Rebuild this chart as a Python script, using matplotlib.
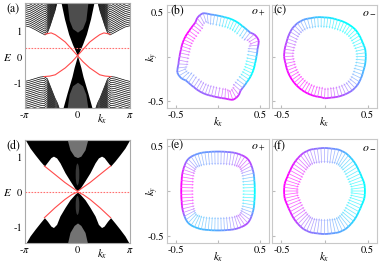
import numpy as np
import matplotlib.pyplot as plt
from matplotlib.collections import LineCollection
from matplotlib.patches import Ellipse

plt.rcParams['font.family'] = ['STIXGeneral', 'DejaVu Sans']
plt.rcParams['mathtext.fontset'] = 'stix'
plt.rcParams['font.size'] = 7.5

# ---------------- band data (left half, kx <= 0; right half is the mirror) ----------------
# (a)
a_out_k = [-3.14, -2.84, -2.54, -2.24, -1.94, -1.80, -1.65, -1.50, -1.35, -1.23]
a_out_up = [1.23, 1.18, 1.08, 0.97, 0.87, 0.95, 1.20, 1.50, 1.80, 2.12]
a_out_k2 = [-3.14, -2.84, -2.54, -2.24, -2.00, -1.80, -1.65, -1.50, -1.35, -1.20, -1.10]
a_out_dn = [-0.95, -0.90, -0.84, -0.78, -0.76, -0.85, -1.10, -1.35, -1.60, -1.80, -1.99]
a_mid_E_up = [0.06, 0.5, 0.9, 1.5, 2.12]
a_mid_k_up = [0.0, -0.30, -0.53, -0.78, -0.98]
a_mid_E_dn = [0.06, -0.4, -0.76, -1.4, -1.99]
a_mid_k_dn = [0.0, -0.20, -0.33, -0.62, -0.87]
a_gray_k = [-0.62, -0.5, -0.3, 0.0]
a_gray_up = [2.12, 1.45, 1.12, 0.98]
a_gray_dn = [-1.99, -1.45, -1.12, -0.98]
a_red_k = [-1.94, -1.58, -1.33, -1.05, -0.73, -0.33, 0.0]
a_red_up = [0.90, 0.95, 0.88, 0.75, 0.59, 0.30, 0.06]
a_red_k2 = [-2.00, -1.65, -1.33, -0.73, -0.33, 0.0]
a_red_dn = [-0.76, -0.74, -0.69, -0.42, -0.18, 0.06]
a_fermi = 0.36

# (d)
d_k = [-3.14, -2.84, -2.54, -2.24, -1.98, -1.80, -1.59, -1.44, -1.25, -1.05, -0.75, -0.45, -0.15, 0.0]
d_up = [1.50, 1.25, 1.06, 0.88, 0.74, 0.85, 0.98, 1.02, 0.97, 0.83, 0.55, 0.32, 0.10, 0.04]
d_dn = [-1.50, -1.25, -1.06, -0.88, -0.73, -0.83, -0.97, -1.01, -0.92, -0.68, -0.44, -0.22, -0.06, 0.0]
d_red_k = [-1.98, -1.35, -0.75, -0.33, 0.0]
d_red_up = [0.74, 0.50, 0.27, 0.13, 0.02]
d_red_dn = [-0.73, -0.45, -0.21, -0.07, 0.0]
d_fermi = 0.0
d_gray_k = [-0.62, -0.45, -0.2, 0.0]
d_gray_top = [1.5, 1.2, 1.02, 0.98]
d_gray_bot = [-1.5, -1.15, -0.95, -0.88]
d_ring_E = [0.50, -0.38]
d_ring_h = [0.62, 0.54]

# ---------------- spin texture data, every 5 degrees ----------------
theta = np.arange(0, 360, 5)

rb = [0.46, 0.47, 0.48, 0.50, 0.52, 0.515, 0.50, 0.47, 0.46, 0.455, 0.45, 0.45, 0.45, 0.45, 0.45, 0.45, 0.45, 0.455,
      0.46, 0.47, 0.48, 0.50, 0.52, 0.515, 0.50, 0.47, 0.46, 0.455, 0.45, 0.45, 0.45, 0.45, 0.45, 0.45, 0.45, 0.455,
      0.46, 0.47, 0.48, 0.50, 0.52, 0.515, 0.50, 0.47, 0.46, 0.455, 0.45, 0.45, 0.45, 0.45, 0.45, 0.45, 0.45, 0.455,
      0.46, 0.47, 0.48, 0.50, 0.52, 0.515, 0.50, 0.47, 0.46, 0.455, 0.45, 0.45, 0.45, 0.45, 0.45, 0.45, 0.45, 0.455]
cb = [0.2, 0.35, 0.5, 0.65, 0.8, 0.78, 0.7, 0.5, 0.3, 0.2, 0.1, 0.07, 0.05, 0.05, 0.05, 0.1, 0.15, 0.22,
      0.3, 0.35, 0.4, 0.45, 0.5, 0.6, 0.7, 0.8, 0.9, 0.95, 1.0, 1.0, 1.0, 0.98, 0.95, 0.9, 0.85, 0.8,
      0.75, 0.68, 0.6, 0.52, 0.45, 0.42, 0.4, 0.42, 0.45, 0.5, 0.55, 0.58, 0.6, 0.6, 0.6, 0.62, 0.65, 0.68,
      0.7, 0.75, 0.8, 0.85, 0.9, 0.85, 0.8, 0.65, 0.5, 0.35, 0.2, 0.1, 0.05, 0.02, 0.0, 0.02, 0.05, 0.12]

rc = [0.48, 0.48, 0.48, 0.475, 0.47, 0.47, 0.47, 0.47, 0.47, 0.465, 0.46, 0.455, 0.45, 0.445, 0.44, 0.44, 0.44, 0.44,
      0.44, 0.445, 0.45, 0.455, 0.46, 0.47, 0.48, 0.485, 0.49, 0.49, 0.49, 0.485, 0.48, 0.475, 0.47, 0.47, 0.47, 0.47,
      0.47, 0.465, 0.46, 0.46, 0.46, 0.46, 0.46, 0.46, 0.46, 0.46, 0.46, 0.46, 0.46, 0.46, 0.46, 0.46, 0.46, 0.46,
      0.47, 0.47, 0.47, 0.475, 0.48, 0.485, 0.49, 0.495, 0.50, 0.50, 0.50, 0.495, 0.49, 0.485, 0.48, 0.48, 0.48, 0.48]
cc = [0.15, 0.12, 0.1, 0.07, 0.05, 0.03, 0.02, 0.01, 0.0, 0.0, 0.0, 0.01, 0.02, 0.03, 0.05, 0.07, 0.1, 0.12,
      0.15, 0.18, 0.22, 0.25, 0.29, 0.33, 0.37, 0.41, 0.46, 0.5, 0.54, 0.59, 0.63, 0.67, 0.71, 0.75, 0.78, 0.82,
      0.85, 0.88, 0.9, 0.93, 0.95, 0.97, 0.98, 0.99, 1.0, 1.0, 1.0, 0.99, 0.98, 0.97, 0.95, 0.93, 0.9, 0.88,
      0.85, 0.82, 0.78, 0.75, 0.71, 0.67, 0.63, 0.59, 0.54, 0.5, 0.46, 0.41, 0.37, 0.33, 0.29, 0.25, 0.22, 0.18]

re_ = [0.44, 0.441, 0.445, 0.45, 0.46, 0.47, 0.48, 0.49, 0.50, 0.505, 0.50, 0.49, 0.48, 0.47, 0.46, 0.45, 0.445, 0.441,
       0.44, 0.441, 0.445, 0.45, 0.46, 0.47, 0.48, 0.49, 0.50, 0.505, 0.50, 0.49, 0.48, 0.47, 0.46, 0.45, 0.445, 0.441,
       0.44, 0.441, 0.445, 0.45, 0.46, 0.47, 0.48, 0.49, 0.50, 0.505, 0.50, 0.49, 0.48, 0.47, 0.46, 0.45, 0.445, 0.441,
       0.44, 0.441, 0.445, 0.45, 0.46, 0.47, 0.48, 0.49, 0.50, 0.505, 0.50, 0.49, 0.48, 0.47, 0.46, 0.45, 0.445, 0.441]
ce = [0.0, 0.05, 0.1, 0.2, 0.3, 0.42, 0.55, 0.65, 0.75, 0.78, 0.75, 0.7, 0.65, 0.6, 0.55, 0.52, 0.5, 0.47,
      0.45, 0.43, 0.42, 0.41, 0.4, 0.4, 0.4, 0.42, 0.45, 0.5, 0.6, 0.7, 0.8, 0.88, 0.95, 0.98, 1.0, 1.0,
      1.0, 1.0, 1.0, 0.95, 0.9, 0.8, 0.7, 0.52, 0.35, 0.3, 0.25, 0.25, 0.25, 0.28, 0.3, 0.3, 0.3, 0.32,
      0.35, 0.38, 0.4, 0.45, 0.5, 0.55, 0.6, 0.65, 0.7, 0.68, 0.6, 0.5, 0.4, 0.28, 0.15, 0.1, 0.05, 0.02]

rf = [0.47, 0.47, 0.47, 0.465, 0.46, 0.46, 0.46, 0.465, 0.47, 0.475, 0.48, 0.485, 0.49, 0.49, 0.49, 0.485, 0.48, 0.48,
      0.48, 0.48, 0.48, 0.485, 0.49, 0.49, 0.49, 0.485, 0.48, 0.475, 0.47, 0.465, 0.46, 0.46, 0.46, 0.465, 0.47, 0.47,
      0.47, 0.47, 0.47, 0.465, 0.46, 0.46, 0.46, 0.465, 0.47, 0.475, 0.48, 0.485, 0.49, 0.49, 0.49, 0.485, 0.48, 0.48,
      0.48, 0.48, 0.48, 0.485, 0.49, 0.49, 0.49, 0.485, 0.48, 0.475, 0.47, 0.465, 0.46, 0.46, 0.46, 0.465, 0.47, 0.47]
cf = [0.0, 0.01, 0.02, 0.03, 0.05, 0.07, 0.1, 0.12, 0.15, 0.17, 0.2, 0.25, 0.3, 0.35, 0.4, 0.42, 0.45, 0.47,
      0.5, 0.52, 0.55, 0.57, 0.6, 0.65, 0.7, 0.75, 0.8, 0.84, 0.88, 0.92, 0.95, 0.98, 1.0, 1.0, 1.0, 1.0,
      1.0, 1.0, 1.0, 0.98, 0.95, 0.92, 0.9, 0.85, 0.8, 0.75, 0.7, 0.65, 0.6, 0.57, 0.55, 0.52, 0.5, 0.47,
      0.45, 0.42, 0.4, 0.37, 0.35, 0.32, 0.3, 0.25, 0.2, 0.17, 0.15, 0.12, 0.1, 0.07, 0.05, 0.03, 0.02, 0.01]


def mirror(k, E):
    k = np.array(k)
    E = np.array(E)
    return np.concatenate([k, -k[::-1][1:]]), np.concatenate([E, E[::-1][1:]])


def style_band(ax, ylim, yt):
    ax.set_xlim(-np.pi, np.pi)
    ax.set_ylim(*ylim)
    ax.set_xticks([-np.pi, 0, np.pi])
    ax.set_xticklabels(['-' + r'$\pi$', '0', r'$\pi$'])
    ax.set_yticks(yt)
    ax.set_yticklabels(['1', '0', '-1'])
    ax.tick_params(direction='in', length=0, pad=2)
    for s in ax.spines.values():
        s.set_color('#aaaaaa')
        s.set_linewidth(0.8)
    ax.text(1.47, -0.04, r'$k_x$', transform=ax.get_xaxis_transform(), ha='center', va='top', fontsize=8)
    ax.text(-0.17, 0, r'$E$', transform=ax.get_yaxis_transform(), ha='center', va='center', fontsize=8)


def texture(ax, r, c, L, ylab):
    t = np.deg2rad(theta)
    r = np.array(r)
    c = np.array(c)
    x = r * np.cos(t)
    y = r * np.sin(t)
    # arrows start on the contour and point along its (smoothed) inward normal
    tx = np.roll(x, -3) - np.roll(x, 3)
    ty = np.roll(y, -3) - np.roll(y, 3)
    n = np.hypot(tx, ty)
    ux, uy = -ty / n, tx / n
    ax.quiver(x, y, L * ux, L * uy, color=plt.cm.cool(c), alpha=0.65,
              angles='xy', scale_units='xy', scale=1, width=0.007,
              headwidth=3, headlength=3, headaxislength=2.6, zorder=2)
    xs = np.append(x, x[0])
    ys = np.append(y, y[0])
    seg = np.stack([np.column_stack([xs[:-1], ys[:-1]]), np.column_stack([xs[1:], ys[1:]])], axis=1)
    cm = (c + np.roll(c, -1)) / 2
    ax.add_collection(LineCollection(seg, colors=plt.cm.cool(cm), linewidths=1.3, zorder=3))
    ax.set_xlim(-0.61, 0.61)
    ax.set_ylim(-0.58, 0.58)
    ax.set_xticks([-0.5, 0, 0.5])
    ax.set_xticklabels(['-0.5', '', '0.5'])
    ax.set_yticks([-0.5, 0, 0.5])
    if ylab:
        ax.set_yticklabels(['-0.5', '', '0.5'])
        ax.text(-0.14, 0.5, r'$k_y$', transform=ax.transAxes, rotation=90, ha='center', va='center', fontsize=8)
    else:
        ax.set_yticklabels([])
    ax.tick_params(direction='in', length=2.5, color='#bbbbbb', pad=2)
    for s in ax.spines.values():
        s.set_color('#c8c8c8')
        s.set_linewidth(0.8)
    ax.text(0.5, -0.07, r'$k_x$', transform=ax.transAxes, ha='center', va='top', fontsize=8)


W, H = 382, 266
fig = plt.figure(figsize=(W / 100, H / 100), dpi=100)


def box(l, t, r, b):
    return [l / W, 1 - b / H, (r - l) / W, (b - t) / H]


axa = fig.add_axes(box(25, 3, 130, 108))
axb = fig.add_axes(box(167, 5, 269, 108))
axc = fig.add_axes(box(272, 5, 377, 108))
axd = fig.add_axes(box(25, 140, 130, 243))
axe = fig.add_axes(box(167, 139, 269, 243))
axf = fig.add_axes(box(272, 139, 377, 243))

# ---- (a) ----
ku = np.array(a_out_k)
Eu = np.array(a_out_up)
for i in range(18):
    axa.plot(ku, Eu + 0.075 * i, color='k', lw=0.5, zorder=1)
    axa.plot(-ku, Eu + 0.075 * i, color='k', lw=0.5, zorder=1)
kd = np.array(a_out_k2)
Ed = np.array(a_out_dn)
for i in range(18):
    axa.plot(kd, Ed - 0.075 * i, color='k', lw=0.5, zorder=1)
    axa.plot(-kd, Ed - 0.075 * i, color='k', lw=0.5, zorder=1)
axa.fill_betweenx(a_mid_E_up, a_mid_k_up, -np.array(a_mid_k_up), color='k', lw=0, zorder=1)
axa.fill_betweenx(a_mid_E_dn, a_mid_k_dn, -np.array(a_mid_k_dn), color='k', lw=0, zorder=1)
gk, gu = mirror(a_gray_k, a_gray_up)
axa.fill_between(gk, gu, 2.2, color='0.3', lw=0, zorder=1)
gk, gd = mirror(a_gray_k, a_gray_dn)
axa.fill_between(gk, -2.2, gd, color='0.3', lw=0, zorder=1)
axa.axhline(a_fermi, color='#ff7070', lw=0.8, ls=(0, (1.5, 1.2)), zorder=2)
rk, ru = mirror(a_red_k, a_red_up)
axa.plot(rk, ru, color='#ff4a4a', lw=0.8, zorder=3)
rk, rd = mirror(a_red_k2, a_red_dn)
axa.plot(rk, rd, color='#ff4a4a', lw=0.8, zorder=3)
style_band(axa, (-1.99, 2.12), [1, 0, -1])

# ---- (d) ----
kk, eu = mirror(d_k, d_up)
kk, ed = mirror(d_k, d_dn)
axd.fill_between(kk, eu, 1.6, color='k', lw=0, zorder=1)
axd.fill_between(kk, -1.6, ed, color='k', lw=0, zorder=1)
gk, gt = mirror(d_gray_k, d_gray_top)
axd.fill_between(gk, gt, 1.6, color='0.45', lw=0, zorder=1)
gk, gb = mirror(d_gray_k, d_gray_bot)
axd.fill_between(gk, -1.6, gb, color='0.45', lw=0, zorder=1)
for e0, h in zip(d_ring_E, d_ring_h):
    axd.add_patch(Ellipse((0, e0), 0.22, h, color='0.22', lw=0, zorder=1))
axd.axhline(d_fermi, color='#ff7070', lw=0.8, ls=(0, (1.5, 1.2)), zorder=2)
rk, ru = mirror(d_red_k, d_red_up)
axd.plot(rk, ru, color='#ff4a4a', lw=0.8, zorder=3)
rk, rd = mirror(d_red_k, d_red_dn)
axd.plot(rk, rd, color='#ff4a4a', lw=0.8, zorder=3)
style_band(axd, (-1.45, 1.48), [1, 0, -1])

# ---- spin textures ----
texture(axb, rb, cb, 0.12, True)
texture(axc, rc, cc, 0.12, False)
texture(axe, re_, ce, 0.15, True)
texture(axf, rf, cf, 0.17, False)


# panel letters
def lab(x, y, s, ha='left'):
    fig.text(x / W, 1 - y / H, s, ha=ha, va='center', fontsize=8.5)


lab(6, 10, '(a)')
lab(170, 11, '(b)')
lab(273, 11, '(c)')
lab(6, 146, '(d)')
lab(170, 146, '(e)')
lab(273, 146, '(f)')
lab(265, 12, r'$o_+$', 'right')
lab(376, 12, r'$o_-$', 'right')
lab(265, 147, r'$o_+$', 'right')
lab(376, 147, r'$o_-$', 'right')

fig.savefig('out.png', dpi=100)
